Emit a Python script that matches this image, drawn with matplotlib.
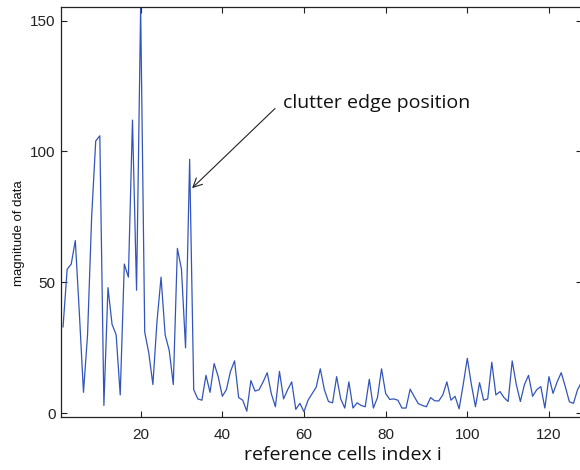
import numpy as np
import matplotlib
matplotlib.use("Agg")
import matplotlib.pyplot as plt

# magnitude of data in each reference cell
magnitude = [
    33, 55, 57, 66, 38, 8, 30, 75, 104, 106,
    3, 48, 34, 30, 7, 57, 52, 112, 47, 155,
    31, 23, 11, 35, 52, 30, 24, 11, 63, 55,
    25, 97, 9, 5.5, 5, 14.5, 8, 19, 14, 6.5,
    9, 16, 20, 6, 5, 0.8, 12.5, 8.5, 9, 12,
    15.5, 7.5, 2.5, 16, 5.5, 9, 12, 1.5, 3.8, 0.6,
    5, 7.5, 10, 17, 9, 4.5, 4, 14, 5.5, 2,
    12, 2, 4, 3, 2.5, 13, 2, 6, 17, 7.6,
    5.3, 5.5, 5, 2, 2, 9.2, 6.4, 3.7, 3, 2.5,
    6, 4.8, 4.7, 7, 12, 5, 6.5, 1.7, 11, 21,
    11, 2.5, 11.7, 5, 5.5, 19.5, 7, 8.3, 6, 4.5,
    20, 11, 4.5, 11, 14.5, 6.5, 9, 10.2, 2, 14,
    7.6, 12, 15.5, 10.2, 4.4, 3.8, 9, 12,
]
cells = np.arange(1, len(magnitude) + 1)

x_ticks = [20, 40, 60, 80, 100, 120]
y_ticks = [0, 50, 100, 150]

# arrow tip (clutter edge), arrow tail and text anchor
edge_point = (32.6, 86)
arrow_tail = (52.9, 116.4)
text_point = (54.8, 118.5)

fig = plt.figure(figsize=(5.8, 4.7), dpi=100)
ax = fig.add_axes([0.1052, 0.1134, 0.8976, 0.8723])

ax.plot(cells, magnitude, color="#3355bb", linewidth=0.9)

ax.set_xlim(0.5, 128)
ax.set_ylim(-1.3, 155.3)
ax.set_xticks(x_ticks)
ax.set_yticks(y_ticks)

ax.tick_params(direction="in", length=4, width=0.8, top=True, right=True,
               labelsize=11, labelcolor="#222222", colors="#222222")
ax.tick_params(axis="x", pad=8)
ax.tick_params(axis="y", pad=4)
for tl in ax.get_xticklabels() + ax.get_yticklabels():
    tl.set_fontfamily("Liberation Sans")
for s in ax.spines.values():
    s.set_linewidth(0.9)
    s.set_color("#222222")

ax.set_xlabel("reference cells index i", fontsize=14, family="Open Sans",
              color="#111111")
ax.xaxis.set_label_coords(0.5416, -0.072)
ax.set_ylabel("magnitude of data", fontsize=9.5, family="Liberation Sans",
              color="#111111")
ax.yaxis.set_label_coords(-0.069, 0.447)

# arrow and text drawn separately so the arrow starts at the text corner
ax.annotate("", xy=edge_point, xytext=arrow_tail,
            arrowprops=dict(arrowstyle="->", color="#222222", lw=0.8,
                            shrinkA=0, shrinkB=0, mutation_scale=16))
ax.text(text_point[0], text_point[1], "clutter edge position",
        fontsize=14, family="Open Sans", color="#111111",
        ha="left", va="center")

fig.savefig("out.png", dpi=100)
